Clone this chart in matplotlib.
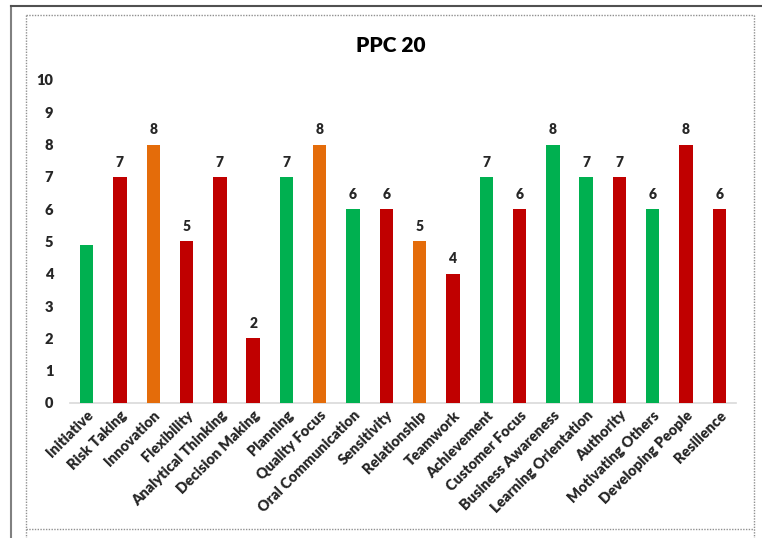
import matplotlib
matplotlib.use("Agg")
import matplotlib.pyplot as plt
from matplotlib.lines import Line2D

categories = ["Initiative", "Risk Taking", "Innovation", "Flexibility", "Analytical Thinking",
              "Decision Making", "Planning", "Quality Focus", "Oral Communication", "Sensitivity",
              "Relationship", "Teamwork", "Achievement", "Customer Focus", "Business Awareness",
              "Learning Orientation", "Authority", "Motivating Others", "Developing People", "Resilience"]
values = [4.9, 7, 8, 5, 7, 2, 7, 8, 6, 6, 5, 4, 7, 6, 8, 7, 7, 6, 8, 6]
labels = ["", "7", "8", "5", "7", "2", "7", "8", "6", "6", "5", "4", "7", "6", "8", "7", "7", "6", "8", "6"]
groups = ["g", "r", "o", "r", "r", "r", "g", "o", "g", "r", "o", "r", "g", "r", "g", "g", "r", "g", "r", "r"]
palette = {"g": "#00B050", "r": "#C00000", "o": "#E46C0A"}

plt.rcParams['font.family'] = ['Lato', 'DejaVu Sans']

W, H = 762, 538
fig = plt.figure(figsize=(W / 100, H / 100), dpi=100)
ax = fig.add_axes([70 / W, 1 - 403 / H, (736 - 70) / W, (403 - 80) / H])

x = list(range(len(categories)))
ax.bar(x, values, width=0.4, color=[palette[g] for g in groups], zorder=3)
for xi, v, lab in zip(x, values, labels):
    if lab:
        ax.annotate(lab, (xi, v), xytext=(0, 6), textcoords="offset points",
                    ha="center", va="bottom", fontsize=10, fontweight="heavy", color="#262626")

ax.set_xlim(-0.5, len(categories) - 0.5)
ax.set_ylim(0, 10)
ax.set_yticks(range(0, 11))
ax.set_xticks(x)
ax.set_xticklabels(categories, rotation=45, ha="right", rotation_mode="anchor",
                   fontsize=10.5, fontweight="heavy", color="#262626")
for t in ax.get_yticklabels():
    t.set_fontsize(10.5)
    t.set_fontweight("heavy")
    t.set_color("#262626")
ax.tick_params(axis="both", length=0)
ax.tick_params(axis="y", pad=12)
ax.tick_params(axis="x", pad=4)
for s in ["top", "right", "left"]:
    ax.spines[s].set_visible(False)
ax.spines["bottom"].set_color("#d9d9d9")
ax.spines["bottom"].set_linewidth(1.2)

fig.text(391 / W, 1 - 45 / H, "PPC 20", ha="center", va="center", fontsize=15, fontweight="heavy",
         color="#000000")

def px_line(xs, ys, **kw):
    fig.add_artist(Line2D([a / W for a in xs], [1 - b / H for b in ys],
                          transform=fig.transFigure, **kw))

# outer solid frame
px_line([11, 11], [6, 538], color="#808080", lw=1.5)
px_line([11, 762], [6, 6], color="#505050", lw=1.5)
# inner dotted frame
dk = dict(color="#909090", lw=1.0, linestyle=(0, (1, 1)))
px_line([26, 754], [15, 15], **dk)
px_line([26, 26], [15, 538], **dk)
px_line([754, 754], [15, 538], **dk)
px_line([26, 754], [529, 529], **dk)

fig.savefig("out.png", dpi=100)
